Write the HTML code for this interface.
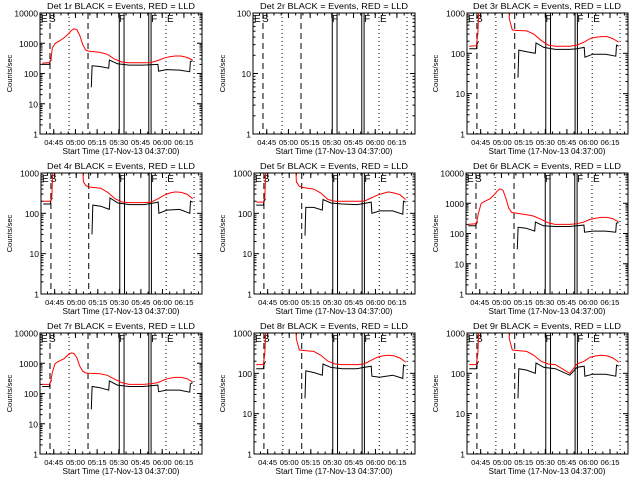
<!DOCTYPE html>
<html><head><meta charset="utf-8"><style>
html,body{margin:0;padding:0;background:#fff;}
svg{display:block;font-family:"Liberation Sans",sans-serif;}
</style></head><body>
<svg id="c" width="640" height="480" viewBox="0 0 640 480"></svg>
<script>
const tickLabels = ["04:45","05:00","05:15","05:30","05:45","06:00","06:15"];
const tickTimes = [8,23,38,53,68,83,98];
const dashedTimes = [5.4,31.7];
const dottedTimes = [18.6,85.6,105];
const solidTimes = [53.3,56.6,73.7,75.3];
const tRed = [0,5,6,7,9,12,15,18,20,22,24,26,28,30,32,40,45,50,55,60,70,75,80,84,88,92,96,100,104];
const tBlack = [0,5,5.5,6.5,7,34,34.5,40,46,46.5,52,60,70,75,80,80.5,86,95,102,102.5,104];
const detNames = ["1r","2r","3r","4r","5r","6r","7r","8r","9r"];
const decades = [4,2,3,3,3,4,4,3,3];
const red1 = [220,230,260,700,1000,1200,1500,2000,2600,3000,2800,1800,900,600,550,500,430,300,240,225,225,230,270,320,360,380,380,340,280];
const red2 = [];
const red3 = [150,155,300,2000,20000,20000,20000,20000,20000,20000,20000,20000,700,380,370,360,300,210,160,150,150,160,190,230,250,260,260,230,190];
const red4 = [200,200,250,2000,20000,20000,20000,20000,20000,20000,20000,20000,600,480,450,420,330,230,190,185,185,190,230,280,320,340,330,300,230];
const red5 = [190,190,240,2000,20000,20000,20000,20000,20000,20000,20000,20000,600,470,440,400,320,220,200,200,200,200,240,280,310,340,320,290,220];
const red6 = [200,210,240,450,1000,1200,1400,1900,2500,3000,2700,1500,700,500,480,420,380,300,230,200,200,210,240,290,320,340,340,310,240];
const red7 = [200,200,250,500,1000,1200,1400,1900,2200,2100,1500,800,550,480,470,450,400,300,230,200,200,210,230,280,320,340,340,310,240];
const red8 = [165,165,300,2000,20000,20000,20000,20000,20000,20000,20000,20000,700,380,370,350,280,200,170,165,165,170,210,250,270,280,270,240,190];
const red9 = [165,165,300,2000,20000,20000,20000,20000,20000,20000,20000,20000,700,380,370,350,280,200,170,165,100,170,200,250,270,280,270,240,190];
const black1 = [200,200,260,300,null,35,180,170,150,280,210,190,190,195,200,120,135,130,115,250,260];
const black2 = [];
const black3 = [130,130,170,200,null,25,120,110,100,180,140,125,125,130,140,80,95,95,85,160,150];
const black4 = [170,170,220,240,null,30,160,150,125,240,180,165,165,175,190,100,120,125,100,200,190];
const black5 = [160,160,200,230,null,28,140,140,120,220,180,170,165,175,190,100,115,115,95,200,190];
const black6 = [180,180,200,250,null,30,160,150,120,240,180,170,170,180,190,110,120,120,110,220,230];
const black7 = [170,170,230,280,null,30,170,155,130,260,190,170,170,180,190,115,130,130,110,210,230];
const black8 = [130,130,170,200,null,24,115,105,90,170,140,130,130,140,150,85,80,90,75,160,150];
const black9 = [130,130,170,200,null,24,130,120,100,180,140,130,90,140,150,85,95,95,85,160,150];
const reds = [red1,red2,red3,red4,red5,red6,red7,red8,red9];
const blacks = [black1,black2,black3,black4,black5,black6,black7,black8,black9];

const NS = "http://www.w3.org/2000/svg";
const svg = document.getElementById('c');
function mk(tag, attrs, parent){const e=document.createElementNS(NS,tag);for(const k in attrs)e.setAttribute(k,attrs[k]);(parent||svg).appendChild(e);return e;}

for(let p=0;p<9;p++){
  const ox=(p%3)*213, oy=Math.floor(p/3)*160;
  const x0=ox+40+(decades[p]===3?1:0), x1=ox+202, y0=oy+13, y1=oy+134;
  const dec=decades[p];
  const xs=t=>x0+(t+1.5)*(x1-x0)/112;
  const ys=v=>y1-Math.log10(v)/dec*(y1-y0);
  const g=mk('g',{});
  
  
  const cid='clip'+p;
  const cp=mk('clipPath',{id:cid},g);
  mk('rect',{x:x0,y:y0,width:x1-x0,height:y1-y0},cp);
  const title=mk('text',{x:ox+121,y:oy+9,'text-anchor':'middle','font-size':'8','textLength':'148','lengthAdjust':'spacingAndGlyphs'},g);
  title.textContent='Det '+detNames[p]+' BLACK = Events, RED = LLD';
  
  
  for(let d=0;d<=dec;d++){
    const yy=ys(Math.pow(10,d));
    mk('line',{x1:x0,y1:yy,x2:x0+5,y2:yy,stroke:'#000'},g);
    mk('line',{x1:x1,y1:yy,x2:x1-5,y2:yy,stroke:'#000'},g);
    const lb=mk('text',{x:x0-2,y:yy+3.5,'text-anchor':'end','font-size':'8.5'},g);
    lb.textContent=String(Math.pow(10,d));
    
    
    if(d<dec){for(let m=2;m<10;m++){const ym=ys(m*Math.pow(10,d));
      mk('line',{x1:x0,y1:ym,x2:x0+2.5,y2:ym,stroke:'#000'},g);
      mk('line',{x1:x1,y1:ym,x2:x1-2.5,y2:ym,stroke:'#000'},g);}}
  }
  const yt=mk('text',{x:ox+12,y:(y0+y1)/2,'text-anchor':'middle','font-size':'7.5',transform:'rotate(-90 '+(ox+12)+' '+((y0+y1)/2)+')'},g);
  yt.textContent='Counts/sec';
  
  
  for(let i=0;i<tickTimes.length;i++){
    const xx=xs(tickTimes[i]);
    mk('line',{x1:xx,y1:y1,x2:xx,y2:y1-5,stroke:'#000'},g);
    mk('line',{x1:xx,y1:y0,x2:xx,y2:y0+5,stroke:'#000'},g);
    const lb=mk('text',{x:xx,y:oy+145,'text-anchor':'middle','font-size':'7.5','textLength':'19','lengthAdjust':'spacingAndGlyphs'},g);
    lb.textContent=tickLabels[i];
    
    
  }
  for(let t=tickTimes[0]-15;t<=110;t+=5){const xx=xs(t);if(xx<x0||xx>x1)continue;
    mk('line',{x1:xx,y1:y1,x2:xx,y2:y1-2.5,stroke:'#000'},g);
    mk('line',{x1:xx,y1:y0,x2:xx,y2:y0+2.5,stroke:'#000'},g);}
  const xt=mk('text',{x:ox+121,y:oy+154,'text-anchor':'middle','font-size':'8','textLength':'117','lengthAdjust':'spacingAndGlyphs'},g);
  xt.textContent='Start Time (17-Nov-13 04:37:00)';
  
  
  dashedTimes.forEach(t=>mk('line',{x1:xs(t),y1:y0,x2:xs(t),y2:y1,stroke:'#000','stroke-dasharray':'6,4'},g));
  dottedTimes.forEach(t=>mk('line',{x1:xs(t),y1:y0,x2:xs(t),y2:y1,stroke:'#000','stroke-dasharray':'1,3'},g));
  solidTimes.forEach(t=>mk('line',{x1:xs(t),y1:y0,x2:xs(t),y2:y1,stroke:'#000','stroke-width':'1'},g));
  [['E',x0+1],['S',x0+9],['F',xs(solidTimes[1])-5],['F',xs(solidTimes[3])],['E',xs(85.6)+1]].forEach(a=>{
    const tx=mk('text',{x:a[1],y:y0+9,'font-size':'10'},g);tx.textContent=a[0];
    
    });
  function path(ts,vs,color,name){
    if(!vs.length)return;
    let d='',pen=false;
    for(let i=0;i<vs.length;i++){
      if(vs[i]==null){pen=false;continue;}
      d+=(pen?'L':'M')+xs(ts[i]).toFixed(1)+','+ys(vs[i]).toFixed(1);pen=true;
    }
    const pe=mk('path',{d:d,fill:'none',stroke:color,'stroke-width':'1','clip-path':'url(#'+cid+')'},g);
    
    
  }
  path(tBlack,blacks[p],'#000','events-line');
  path(tRed,reds[p],'#ff0000','lld-line');
  mk('rect',{x:x0,y:y0,width:x1-x0,height:y1-y0,fill:'none',stroke:'#000'},g);
}
</script>
</body></html>
